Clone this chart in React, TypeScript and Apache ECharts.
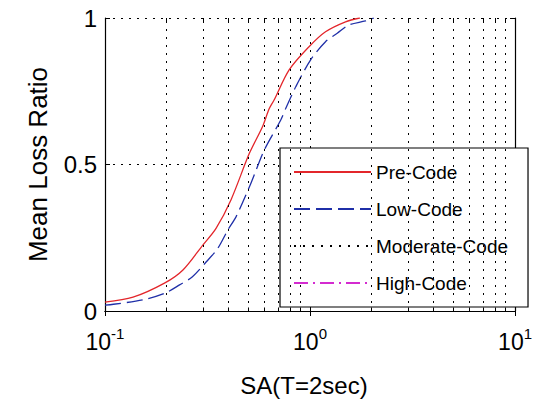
import React, { useEffect, useRef } from "react";
import * as echarts from "echarts";

const seriesNames = ["Pre-Code", "Low-Code", "Moderate-Code", "High-Code"];

const preCode: [number, number][] = [
  [0.1, 0.03], [0.137, 0.047], [0.195, 0.095], [0.24, 0.14], [0.3, 0.225],
  [0.348, 0.282], [0.412, 0.38], [0.506, 0.538], [0.587, 0.63], [0.632, 0.69],
  [0.668, 0.72], [0.791, 0.823], [0.989, 0.902], [1.19, 0.953], [1.49, 0.987],
  [1.75, 1.0],
];

const lowCode: [number, number][] = [
  [0.1, 0.02], [0.11, 0.023], [0.153, 0.038], [0.195, 0.06], [0.231, 0.089],
  [0.267, 0.117], [0.312, 0.168], [0.355, 0.214], [0.397, 0.276], [0.436, 0.322],
  [0.515, 0.436], [0.598, 0.549], [0.72, 0.652], [0.762, 0.692], [0.853, 0.766],
  [1.007, 0.857], [1.19, 0.919], [1.358, 0.948], [1.546, 0.976], [1.864, 0.99],
  [2.05, 1.0],
];

const moderateCode: [number, number][] = [];
const highCode: [number, number][] = [];

const xMinorTicks = [0.2, 0.3, 0.4, 0.5, 0.6, 0.7, 0.8, 0.9, 2, 3, 4, 5, 6, 7, 8, 9];
const xTickLabels: Record<string, string> = { "0.1": "-1", "1": "0", "10": "1" };
const yTickLabels: Record<string, string> = { "0": "0", "0.5": "0.5", "1": "1" };

const FONT = "'Liberation Sans', Arial, Helvetica, sans-serif";
const dotted = { color: "#000", width: 1, type: [2, 6] as number[] };
const legendText = { fontSize: 19, fontFamily: FONT, color: "#000", lineHeight: 22 };

export default function App() {
  const ref = useRef<HTMLDivElement>(null);
  useEffect(() => {
    if (!ref.current) return;
    const chart = echarts.init(ref.current, undefined, { renderer: "svg" });
    const tickStyle = { show: true, inside: true, length: 5, lineStyle: { color: "#000", width: 1 } };
    const axisLine = { show: true, lineStyle: { color: "#000", width: 1.2 } };
    chart.setOption({
      animation: false,
      backgroundColor: "#fff",
      textStyle: { fontFamily: FONT },
      grid: { left: 105, right: 18, top: 18, bottom: 93, containLabel: false },
      legend: {
        data: seriesNames.map((n) => ({ name: n, textStyle: legendText })),
        orient: "vertical",
        left: 280,
        top: 148,
        padding: [13, 20, 13, 13],
        itemWidth: 77,
        itemHeight: 14,
        itemGap: 15,
        backgroundColor: "#fff",
        borderColor: "#000",
        borderWidth: 1.2,
        borderRadius: 0,
        itemStyle: { opacity: 0, borderWidth: 0, color: "rgba(0,0,0,0)" },
        textStyle: legendText,
        selectedMode: false,
      },
      xAxis: [
        {
          type: "log",
          logBase: 10,
          min: 0.1,
          max: 10,
          position: "bottom",
          axisLine,
          axisTick: tickStyle,
          splitLine: { show: true, lineStyle: dotted },
          axisLabel: {
            margin: 15,
            formatter: (v: number) => {
              const e = xTickLabels[String(v)] ?? String(Math.round(Math.log10(v)));
              return `{s|}{b|10}{s|${e}}`;
            },
            rich: {
              b: { fontSize: 23, fontFamily: FONT, color: "#000", lineHeight: 24, padding: [8, 0, 0, 0] },
              s: { fontSize: 15, fontFamily: FONT, color: "#000", lineHeight: 15, verticalAlign: "top" },
            },
          },
          name: "SA(T=2sec)",
          nameLocation: "middle",
          nameGap: 62,
          nameTextStyle: { fontSize: 24, fontFamily: FONT, color: "#000", padding: [0, 12, 0, 0] },
        },
        {
          type: "log",
          logBase: 10,
          min: 0.1,
          max: 10,
          position: "top",
          axisLine,
          axisTick: tickStyle,
          axisLabel: { show: false },
          splitLine: { show: false },
        },
      ],
      yAxis: [
        {
          type: "value",
          min: 0,
          max: 1,
          interval: 0.5,
          position: "left",
          axisLine,
          axisTick: tickStyle,
          splitLine: { show: true, lineStyle: dotted },
          axisLabel: {
            margin: 8,
            fontSize: 24,
            fontFamily: FONT,
            color: "#000",
            formatter: (v: number) => yTickLabels[String(v)] ?? String(v),
          },
          name: "Mean Loss Ratio",
          nameLocation: "middle",
          nameGap: 54,
          nameRotate: 90,
          nameTextStyle: { fontSize: 26, fontFamily: FONT, color: "#000" },
        },
        {
          type: "value",
          min: 0,
          max: 1,
          interval: 0.5,
          position: "right",
          axisLine,
          axisTick: tickStyle,
          axisLabel: { show: false },
          splitLine: { show: false },
        },
      ],
      series: [
        {
          name: "_grid",
          type: "line",
          data: [],
          z: 1,
          silent: true,
          markLine: {
            silent: true,
            symbol: ["none", "none"],
            label: { show: false },
            animation: false,
            data: [
              ...xMinorTicks.map((v) => ({ xAxis: v, lineStyle: dotted })),
              ...xMinorTicks.map((v) => [
                { coord: [v, 0], lineStyle: { color: "#000", width: 1, type: "solid" } },
                { coord: [v, 0.012] },
              ]),
              ...xMinorTicks.map((v) => [
                { coord: [v, 1], lineStyle: { color: "#000", width: 1, type: "solid" } },
                { coord: [v, 0.988] },
              ]),
            ],
          },
        },
        {
          name: "Pre-Code",
          type: "line",
          data: preCode,
          symbol: "none",
          smooth: 0.3,
          lineStyle: { color: "#e3262b", width: 1.3, type: "solid" },
          itemStyle: { color: "#e3262b" },
          z: 3,
        },
        {
          name: "Low-Code",
          type: "line",
          data: lowCode,
          symbol: "none",
          smooth: 0.3,
          lineStyle: { color: "#1f2fa8", width: 1.3, type: [16, 6] },
          itemStyle: { color: "#1f2fa8" },
          z: 3,
        },
        {
          name: "Moderate-Code",
          type: "line",
          data: moderateCode,
          symbol: "none",
          lineStyle: { color: "#000", width: 1.3, type: [2, 7] },
          itemStyle: { color: "#000" },
          z: 3,
        },
        {
          name: "High-Code",
          type: "line",
          data: highCode,
          symbol: "none",
          lineStyle: { color: "#d42bd0", width: 1.3, type: [14, 5, 2, 5] },
          itemStyle: { color: "#d42bd0" },
          z: 3,
        },
      ],
    });
    return () => chart.dispose();
  }, []);
  return (
    <div
      ref={ref}
      style={{ position: "absolute", left: 0, top: 0, width: 535, height: 404, background: "#fff" }}
    />
  );
}
